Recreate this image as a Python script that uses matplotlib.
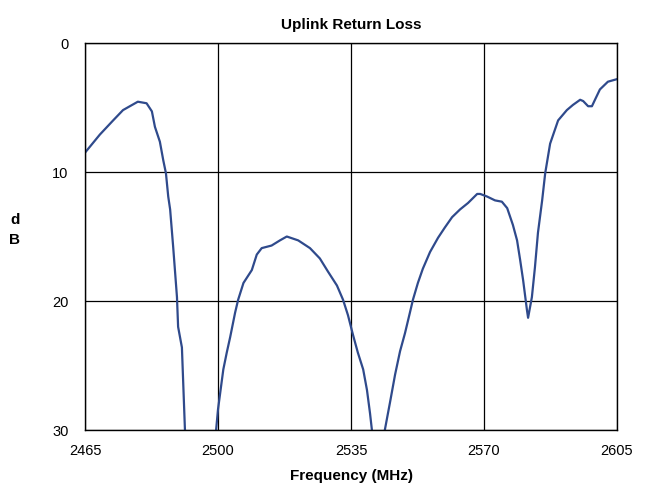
import numpy as np
import matplotlib.pyplot as plt

# Uplink return loss trace (MHz, dB)
freq = [2465.0, 2468.9, 2472.4, 2475.0, 2478.9, 2481.2, 2482.6, 2483.4, 2484.7,
        2485.6, 2486.3, 2486.9, 2487.4, 2488.2, 2489.2, 2489.5, 2490.5, 2491.3,
        2493.0, 2496.0, 2498.5, 2499.5, 2500.0, 2501.4, 2502.3, 2503.2, 2504.5,
        2505.3, 2506.7, 2508.9, 2510.2, 2511.5, 2514.1, 2516.3, 2518.1, 2521.1,
        2524.2, 2526.8, 2528.9, 2531.3, 2532.9, 2534.2, 2535.5, 2536.8, 2538.2,
        2539.2, 2540.0, 2540.5, 2541.8, 2543.0, 2543.9, 2545.3, 2546.6, 2547.9,
        2549.2, 2550.5, 2551.3, 2552.6, 2553.9, 2555.8, 2557.9, 2559.7, 2561.6,
        2563.7, 2565.8, 2568.2, 2569.0, 2570.8, 2572.9, 2574.7, 2576.1, 2577.6,
        2578.7, 2579.5, 2580.3, 2581.3, 2581.6, 2582.6, 2583.4, 2584.2, 2585.3,
        2586.1, 2587.4, 2589.5, 2591.8, 2593.4, 2595.3, 2596.1, 2597.4, 2598.4,
        2599.2, 2600.5, 2602.6, 2605.0]
loss = [8.5, 7.1, 6.0, 5.2, 4.55, 4.67, 5.3, 6.5, 7.65,
        9.1, 10.1, 11.9, 12.9, 15.8, 19.7, 22.0, 23.6, 30.0,
        36.0, 40.0, 35.0, 30.0, 28.4, 25.3, 24.0, 22.8, 20.9,
        19.9, 18.6, 17.6, 16.4, 15.9, 15.7, 15.3, 15.0, 15.3,
        15.9, 16.7, 17.7, 18.8, 19.9, 21.1, 22.6, 24.0, 25.3,
        26.9, 28.7, 30.0, 33.0, 33.0, 30.0, 27.8, 25.7, 23.9,
        22.5, 20.9, 19.9, 18.6, 17.5, 16.2, 15.1, 14.3, 13.5,
        12.9, 12.4, 11.7, 11.7, 11.9, 12.2, 12.3, 12.8, 14.1,
        15.3, 16.8, 18.4, 20.7, 21.3, 19.7, 17.4, 14.7, 12.2,
        10.1, 7.8, 6.0, 5.2, 4.8, 4.4, 4.5, 4.9, 4.9,
        4.4, 3.6, 3.0, 2.8]

xticks = [2465, 2500, 2535, 2570, 2605]
yticks = [0, 10, 20, 30]

plt.rcParams['font.family'] = ['Liberation Sans', 'DejaVu Sans']

fig = plt.figure(figsize=(6.45, 4.95), dpi=100)
ax = fig.add_axes([0.1318, 0.1313, 0.8248, 0.7818])

ax.plot(freq, loss, color='#2f4a8c', linewidth=1.6)

ax.set_xlim(2465, 2605)
ax.set_ylim(30, 0)
ax.set_xticks(xticks)
ax.set_yticks(yticks)
ax.grid(True, color='black', linewidth=0.9)
ax.tick_params(length=0, labelsize=10.5)
ax.tick_params(axis='x', pad=10)
ax.tick_params(axis='y', pad=12)
for s in ax.spines.values():
    s.set_color('black')
    s.set_linewidth(1.0)

ax.set_title('Uplink Return Loss', fontsize=11, fontweight='bold', pad=10)
ax.set_xlabel('Frequency (MHz)', fontsize=11, fontweight='bold', labelpad=8)
fig.text(0.023, 0.535, 'd\nB', fontsize=11, fontweight='bold',
         ha='center', va='center', linespacing=1.6)

fig.savefig('out.png', dpi=100)
